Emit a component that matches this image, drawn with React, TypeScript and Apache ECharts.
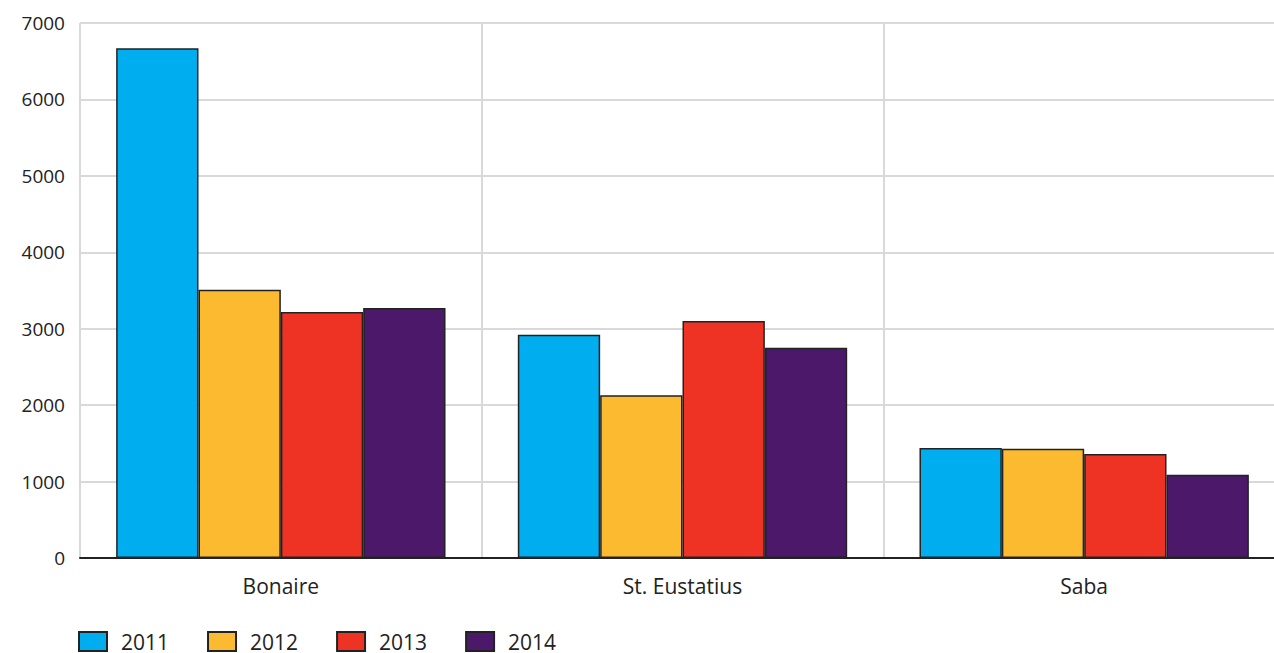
import React, { useEffect, useRef } from "react";
import * as echarts from "echarts";

const categories = ["Bonaire", "St. Eustatius", "Saba"];
const years = ["2011", "2012", "2013", "2014"];
const values2011 = [6670, 2920, 1440];
const values2012 = [3510, 2130, 1430];
const values2013 = [3220, 3100, 1360];
const values2014 = [3270, 2750, 1090];
const colors = ["#00aeef", "#fbba30", "#ee3224", "#4b186a"];
const yTicks = { min: 0, max: 7000, interval: 1000 };

export default function App() {
  const ref = useRef<HTMLDivElement>(null);
  useEffect(() => {
    if (!ref.current) return;
    document.body.style.overflow = "hidden";
    const chart = echarts.init(ref.current, undefined, { renderer: "svg" });
    const seriesData = [values2011, values2012, values2013, values2014];
    const font = "'Open Sans', sans-serif";
    chart.setOption({
      animation: false,
      textStyle: { fontFamily: font },
      grid: { left: 80, right: 1, top: 23, bottom: 95, containLabel: false },
      legend: {
        left: 73,
        top: 626,
        itemWidth: 28,
        itemHeight: 19,
        itemGap: 38,
        icon: "rect",
        formatter: (name: string) => `{gap|}{t|${name}}`,
        textStyle: {
          fontSize: 21,
          color: "#222",
          fontFamily: font,
          rich: {
            gap: { width: 9, height: 22 },
            t: { fontSize: 21, color: "#222", fontFamily: font, height: 22 },
          },
        },
        data: years,
      },
      xAxis: {
        type: "category",
        data: categories,
        axisLine: { lineStyle: { color: "#222", width: 2 } },
        axisTick: { alignWithLabel: true, length: 11, lineStyle: { color: "#222", width: 2 } },
        axisLabel: { fontSize: 21, color: "#222", margin: 17, fontFamily: font },
        splitLine: { show: true, lineStyle: { color: "#d9d9d9", width: 2 } },
      },
      yAxis: {
        type: "value",
        min: yTicks.min,
        max: yTicks.max,
        interval: yTicks.interval,
        axisLine: { show: false },
        axisTick: { show: false },
        axisLabel: {
          fontSize: 19,
          color: "#222",
          margin: 15,
          fontFamily: font,
          formatter: (v: number) => String(v),
        },
        splitLine: { lineStyle: { color: "#d9d9d9", width: 2 } },
      },
      series: years.map((y, i) => ({
        name: y,
        type: "bar",
        data: seriesData[i],
        barGap: "0%",
        barCategoryGap: "18%",
        itemStyle: { color: colors[i], borderColor: "#222", borderWidth: 1.5 },
      })),
    });
    return () => chart.dispose();
  }, []);
  return (
    <div
      ref={ref}
      style={{ position: "fixed", left: 0, top: 0, width: 1286, height: 653, background: "#fff" }}
    />
  );
}
